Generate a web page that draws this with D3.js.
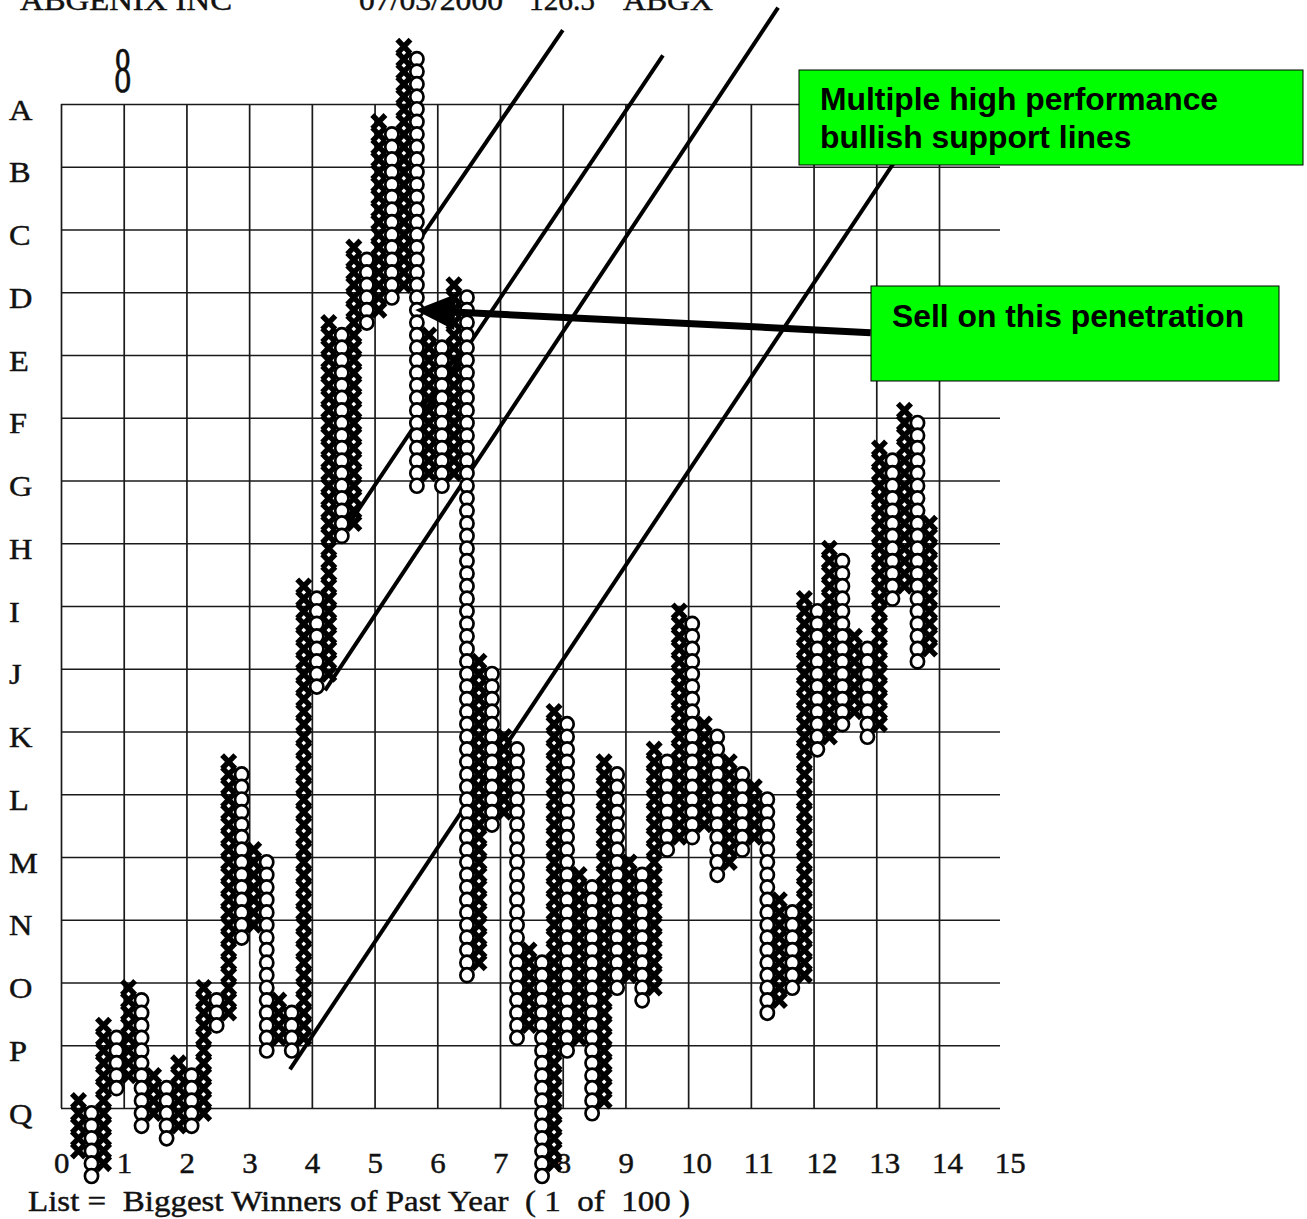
<!DOCTYPE html>
<html><head><meta charset="utf-8">
<script src="https://d3js.org/d3.v7.min.js"></script>
<style>html,body{margin:0;padding:0;background:#fff;overflow:hidden}svg{display:block}</style>
</head><body><svg id="c" width="1307" height="1219"></svg>
<script>
// Point & figure columns: even index = X column, odd index = O column. Rows count downward from the highest box.
const columnTops = [84,85,78,79,75,76,82,83,81,82,75,76,57,58,64,65,76,77,43,44,22,23,16,17,6,7,0,1,23,24,19,20,49,50,55,56,72,73,53,54,66,67,57,58,65,66,56,57,45,46,54,55,57,58,59,60,68,69,44,45,40,41,47,48,32,33,29,30,38];
const columnBottoms = [88,90,89,83,82,86,85,87,86,86,85,78,77,71,70,80,79,80,79,51,50,39,38,22,21,20,19,35,34,35,34,74,73,62,61,79,78,90,89,80,79,85,84,75,74,76,75,64,63,63,62,66,65,64,63,77,76,75,74,56,55,54,53,55,54,44,43,49,48];
const rowLabels = ["A","B","C","D","E","F","G","H","I","J","K","L","M","N","O","P","Q"];
const timeLabels = ["0","1","2","3","4","5","6","7","8","9","10","11","12","13","14","15"];
const supportLines = [
  [[16.9,81.5],[65.2,9.2]],
  [[19.7,51.3],[55.9,-3.1]],
  [[21.3,38.5],[46.7,0.7]],
  [[26.8,16.05],[38.7,-1.3]]
];
const sellArrow = [[63.3,22.8],[26.9,21]];
const headerTexts = [["ABGENIX INC",20,212],["07/03/2000",359,144],["126.5",529,66],["ABGX",623,90]];
const footerText = "List =  Biggest Winners of Past Year  ( 1  of  100 )";
const callouts = [
  {box:[799,70,504,95], lines:["Multiple high performance","bullish support lines"], tx:820, ty:[110,148]},
  {box:[871,286,408,95], lines:["Sell on this penetration"], tx:892, ty:[327]}
];

const svg = d3.select("#c");
const serif = "'Liberation Serif','Times New Roman',serif";
const sans = "'Liberation Sans',Arial,sans-serif";
const ink = "#111";
const serifStyle = s => s.attr("font-family",serif).attr("font-size",30).attr("fill",ink).attr("stroke",ink).attr("stroke-width",0.45);

const gridX = d3.scaleLinear().domain([0,14]).range([61,939]);
const gridY = d3.scaleLinear().domain([0,16]).range([104,1108]);
const colX = d3.scaleLinear().domain([0,68]).range([78.5,929.5]);
const rowY = d3.scaleLinear().domain([0,90]).range([46.5,1176]);

// grid & axes
const gx = svg.append("g").attr("transform","translate(0,1108)")
  .call(d3.axisBottom(gridX).tickValues(d3.range(15)).tickSize(-1004).tickSizeOuter(0));
const gy = svg.append("g").attr("transform","translate(61,0)")
  .call(d3.axisLeft(gridY).tickValues(d3.range(17)).tickSize(-939).tickSizeOuter(0).tickFormat(i=>rowLabels[i]));
svg.selectAll(".domain").remove();
svg.selectAll(".tick line").attr("stroke","#1a1a1a").attr("stroke-width",1.7);
gx.selectAll(".tick text").remove();
gy.selectAll(".tick text")
  .attr("dy",null).attr("x",null).attr("y",null).attr("text-anchor","start")
  .attr("transform","translate(-52,15) scale(1.08,1)")
  .call(serifStyle);

svg.append("g").selectAll("text").data(timeLabels).join("text")
  .attr("transform",(d,i)=>`translate(${gridX(i)-7},1173) scale(1.03,1)`)
  .call(serifStyle)
  .text(d=>d);

// support lines beneath the glyphs
svg.append("g").selectAll("line").data(supportLines).join("line")
  .attr("x1",d=>colX(d[0][0])).attr("y1",d=>rowY(d[0][1]))
  .attr("x2",d=>colX(d[1][0])).attr("y2",d=>rowY(d[1][1]))
  .attr("stroke","#000").attr("stroke-width",4);

// P&F glyphs
const cells = columnTops.flatMap((top,i)=>d3.range(top,columnBottoms[i]+1).map(r=>({col:i,row:r,isX:i%2===0})));
const marks = svg.append("g");
marks.selectAll("path").data(cells.filter(c=>c.isX)).join("path")
  .attr("transform",d=>`translate(${colX(d.col)},${rowY(d.row)})`)
  .attr("d","M-6.6,-6.8L6.6,6.8M6.6,-6.8L-6.6,6.8")
  .attr("fill","none").attr("stroke","#000").attr("stroke-width",5.4);
marks.selectAll("ellipse").data(cells.filter(c=>!c.isX)).join("ellipse")
  .attr("cx",d=>colX(d.col)+0.5).attr("cy",d=>rowY(d.row))
  .attr("rx",6.6).attr("ry",7).attr("fill","#fff").attr("stroke","#000").attr("stroke-width",2.7);

// figure above the grid
svg.append("text").attr("transform",`translate(${gridX(1)-1},92) scale(1,1.9)`)
  .attr("text-anchor","middle").attr("font-family",serif).attr("font-size",34).attr("fill",ink).attr("stroke",ink).attr("stroke-width",0.3).text("8");

// header & footer
svg.append("g").selectAll("text").data(headerTexts).join("text")
  .attr("x",d=>d[1]).attr("y",10)
  .attr("textLength",d=>d[2]).attr("lengthAdjust","spacingAndGlyphs")
  .call(serifStyle)
  .text(d=>d[0]);
svg.append("text").attr("x",28).attr("y",1211).style("white-space","pre")
  .attr("textLength",662).attr("lengthAdjust","spacingAndGlyphs")
  .call(serifStyle)
  .text(footerText);

// callouts
const cg = svg.append("g").selectAll("g").data(callouts).join("g");
cg.append("rect").attr("x",d=>d.box[0]).attr("y",d=>d.box[1]).attr("width",d=>d.box[2]).attr("height",d=>d.box[3])
  .attr("fill","#00ff00").attr("stroke","#000").attr("stroke-width",1);
cg.each(function(d){
  d3.select(this).selectAll("text").data(d.lines).join("text")
    .attr("x",d.tx).attr("y",(t,i)=>d.ty[i])
    .attr("font-family",sans).attr("font-weight","bold").attr("font-size",31.85).attr("fill","#000").text(t=>t);
});

// arrow
const ax1 = colX(sellArrow[0][0]), ay1 = rowY(sellArrow[0][1]);
const ax2 = colX(sellArrow[1][0]), ay2 = rowY(sellArrow[1][1]);
const ang = Math.atan2(ay1-ay2,ax1-ax2);
svg.append("line").attr("x1",ax1).attr("y1",ay1).attr("x2",ax2+38*Math.cos(ang)).attr("y2",ay2+38*Math.sin(ang))
  .attr("stroke","#000").attr("stroke-width",7);
svg.append("path").attr("transform",`translate(${ax2},${ay2}) rotate(${ang*180/Math.PI})`)
  .attr("d","M0,0L40,-18L40,18Z").attr("fill","#000");
</script></body></html>
